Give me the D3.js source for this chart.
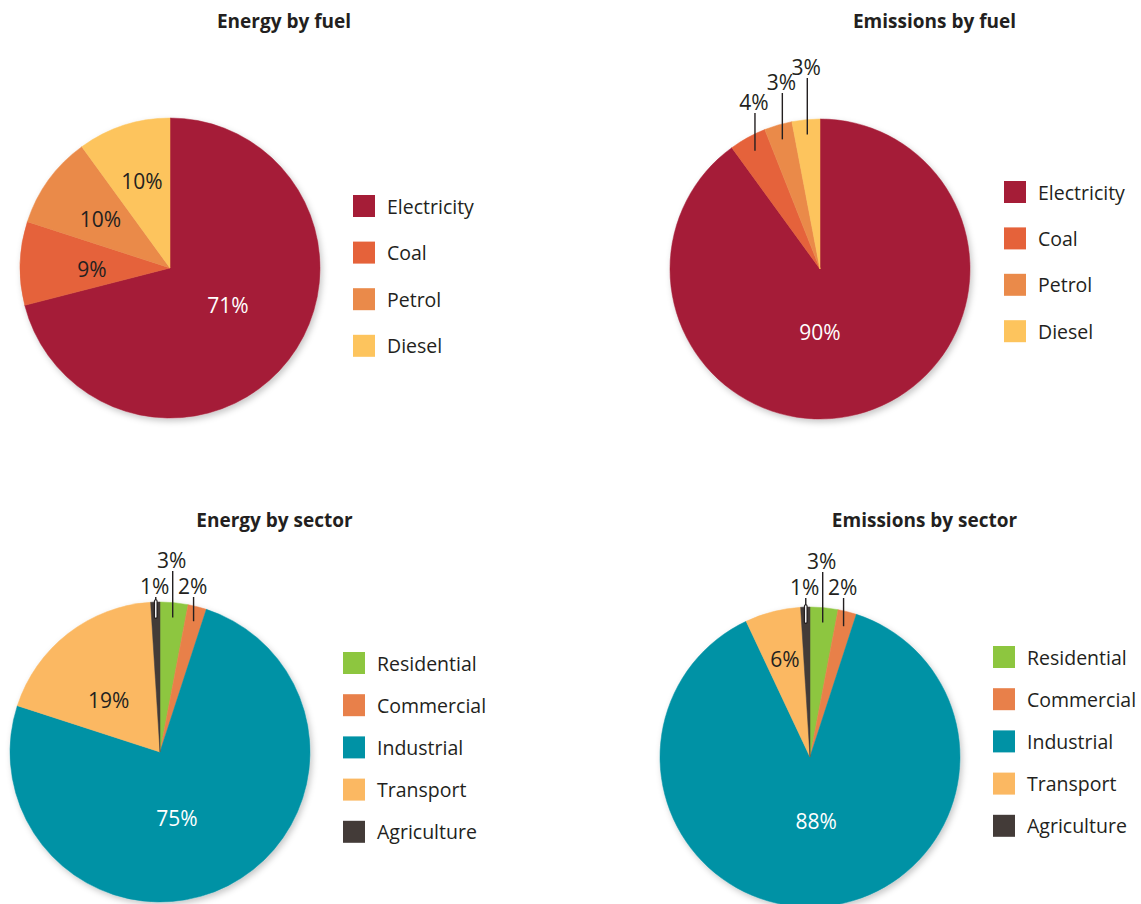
<!DOCTYPE html>
<html>
<head>
<meta charset="utf-8">
<script src="https://cdn.jsdelivr.net/npm/d3@7"></script>
<style>
  body { margin: 0; background: #ffffff; }
  svg { display: block; font-family: "Open Sans", "Noto Sans", sans-serif; }
</style>
</head>
<body>
<svg id="chart" width="1141" height="904"></svg>
<script>
// ---- data ----
const fuelCategories = ["Electricity", "Coal", "Petrol", "Diesel"];
const energyByFuel = [71, 9, 10, 10];
const emissionsByFuel = [90, 4, 3, 3];

const sectorCategories = ["Residential", "Commercial", "Industrial", "Transport", "Agriculture"];
const energyBySector = [3, 2, 75, 19, 1];
const emissionsBySector = [3, 2, 88, 6, 1];

const fuelColors = ["#a51d37", "#e5623a", "#ea8a4a", "#fdc45d"];
const sectorColors = ["#8dc63f", "#e8804a", "#0092a5", "#fbb862", "#433b38"];

const panelTitles = ["Energy by fuel", "Emissions by fuel", "Energy by sector", "Emissions by sector"];

// ---- layout & label styling per panel ----
// label "in": placed inside slice at radius px, angle nudged in degrees
// label "out": leader line rising above the pie by `lift` px
const panels = [
  { title: panelTitles[0], cats: fuelCategories, values: energyByFuel, colors: fuelColors,
    cx: 170, cy: 268, r: 150, titleX: 284, titleY: 28,
    legendX: 353, legendY: 206, legendStep: 46.6,
    labels: [
      { type: "in", r: 69, nudge: -5, light: true },
      { type: "in", r: 78, nudge: -2.5 },
      { type: "in", r: 85, nudge: -1 },
      { type: "in", r: 91, nudge: 0 } ] },
  { title: panelTitles[1], cats: fuelCategories, values: emissionsByFuel, colors: fuelColors,
    cx: 820, cy: 269, r: 150, titleX: 934.5, titleY: 28,
    legendX: 1004, legendY: 192, legendStep: 46.4,
    labels: [
      { type: "in", r: 63, nudge: 18, light: true },
      { type: "out", lift: 6 },
      { type: "out", lift: 26 },
      { type: "out", lift: 41 } ] },
  { title: panelTitles[2], cats: sectorCategories, values: energyBySector, colors: sectorColors,
    cx: 160, cy: 752, r: 150, titleX: 274.5, titleY: 527,
    legendX: 343, legendY: 663, legendStep: 42.2,
    labels: [
      { type: "out", lift: 31 },
      { type: "out", lift: 5 },
      { type: "in", r: 68, nudge: 12.5, light: true },
      { type: "in", r: 73, nudge: -7 },
      { type: "out", lift: 5, inner: true } ] },
  { title: panelTitles[3], cats: sectorCategories, values: emissionsBySector, colors: sectorColors,
    cx: 810, cy: 757, r: 150, titleX: 924.5, titleY: 527,
    legendX: 993, legendY: 657, legendStep: 42.2,
    labels: [
      { type: "out", lift: 35 },
      { type: "out", lift: 9 },
      { type: "in", r: 64, nudge: -2, light: true },
      { type: "in", r: 101, nudge: 0 },
      { type: "out", lift: 9, inner: true } ] }
];

const textDark = "#231f20";
const svg = d3.select("#chart");

// soft shadow under each pie
const defs = svg.append("defs");
const shadow = defs.append("filter").attr("id", "pieShadow")
  .attr("x", "-10%").attr("y", "-10%").attr("width", "125%").attr("height", "125%");
shadow.append("feDropShadow")
  .attr("dx", 2).attr("dy", 3).attr("stdDeviation", 3)
  .attr("flood-color", "#000").attr("flood-opacity", 0.22);

const pie = d3.pie().sort(null).value(d => d);

panels.forEach(p => {
  const g = svg.append("g");

  // title
  g.append("text")
    .attr("x", p.titleX).attr("y", p.titleY)
    .attr("text-anchor", "middle")
    .attr("font-weight", 700).attr("font-size", 19)
    .attr("fill", textDark)
    .text(p.title);

  const color = d3.scaleOrdinal().domain(p.cats).range(p.colors);
  const arcs = pie(p.values).map((a, i) => Object.assign(a, { cat: p.cats[i], idx: i }));
  const arc = d3.arc().innerRadius(0).outerRadius(p.r);

  const pg = g.append("g").attr("transform", `translate(${p.cx},${p.cy})`);
  pg.append("g").attr("filter", "url(#pieShadow)")
    .selectAll("path").data(arcs).join("path")
    .attr("d", arc)
    .attr("fill", d => color(d.cat))
    .attr("stroke", d => color(d.cat)).attr("stroke-width", 0.5);

  // value labels
  arcs.forEach(a => {
    const s = p.labels[a.idx];
    const mid = (a.startAngle + a.endAngle) / 2;
    const txt = a.data + "%";
    if (s.type === "in") {
      const ang = mid + s.nudge * Math.PI / 180;
      pg.append("text")
        .attr("x", s.r * Math.sin(ang))
        .attr("y", -s.r * Math.cos(ang))
        .attr("text-anchor", "middle")
        .attr("dominant-baseline", "central")
        .attr("font-size", 21)
        .attr("fill", s.light ? "#ffffff" : textDark)
        .text(txt);
    } else {
      const r0 = p.r * 0.9;
      const x = r0 * Math.sin(mid);
      const y0 = -r0 * Math.cos(mid);
      const yTop = -p.r - s.lift;
      const yEdge = -Math.sqrt(p.r * p.r - x * x);
      if (s.inner) {
        // white tick inside a dark slice, dark rule above the pie
        pg.append("line").attr("x1", x).attr("x2", x).attr("y1", yEdge).attr("y2", yTop)
          .attr("stroke", textDark).attr("stroke-width", 1.4);
        pg.append("line").attr("x1", x).attr("x2", x).attr("y1", y0).attr("y2", yEdge - 1)
          .attr("stroke", textDark).attr("stroke-width", 3.8).attr("stroke-linecap", "round");
        pg.append("line").attr("x1", x).attr("x2", x).attr("y1", y0).attr("y2", yEdge - 1)
          .attr("stroke", "#ffffff").attr("stroke-width", 1.4).attr("stroke-linecap", "round");
      } else {
        pg.append("line").attr("x1", x).attr("x2", x).attr("y1", y0).attr("y2", yTop)
          .attr("stroke", textDark).attr("stroke-width", 1.4);
      }
      pg.append("text")
        .attr("x", x - 1).attr("y", yTop - 3)
        .attr("text-anchor", "middle")
        .attr("font-size", 21)
        .attr("fill", textDark)
        .text(txt);
    }
  });

  // legend
  const lg = g.append("g").attr("transform", `translate(${p.legendX},${p.legendY})`);
  const rows = lg.selectAll("g").data(p.cats).join("g")
    .attr("transform", (d, i) => `translate(0,${i * p.legendStep})`);
  rows.append("rect")
    .attr("x", 0).attr("y", -11).attr("width", 22).attr("height", 22)
    .attr("fill", d => color(d));
  rows.append("text")
    .attr("x", 34).attr("y", 0)
    .attr("dominant-baseline", "central")
    .attr("font-size", 19.5)
    .attr("fill", textDark)
    .text(d => d);
});
</script>
</body>
</html>
